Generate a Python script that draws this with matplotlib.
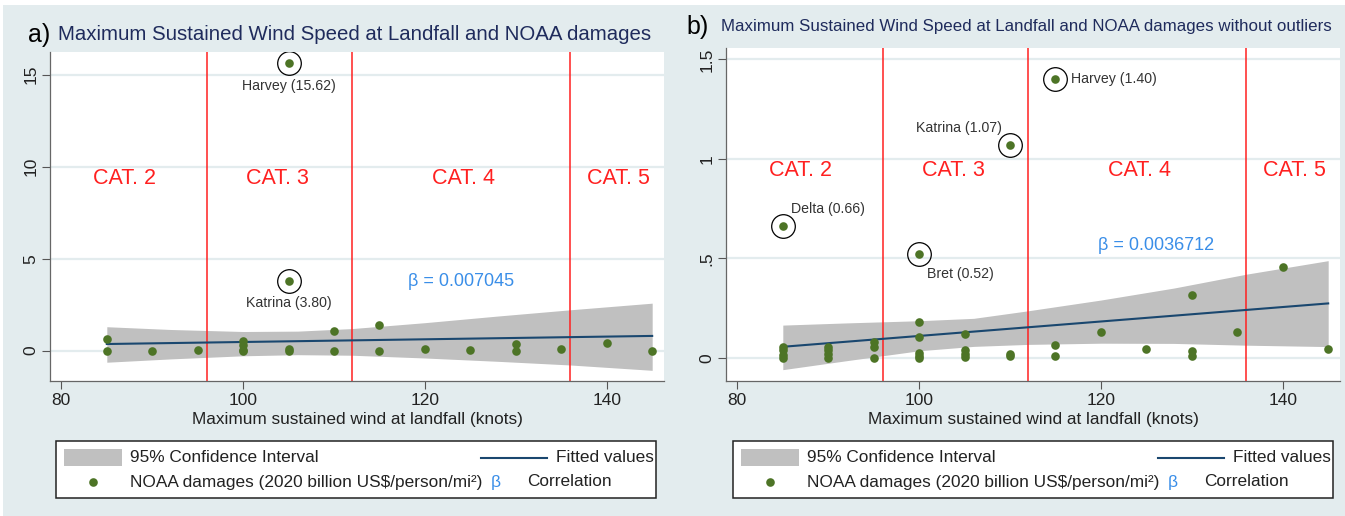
import matplotlib
matplotlib.use("Agg")
import matplotlib.pyplot as plt
from matplotlib.patches import Rectangle
from matplotlib.lines import Line2D

plt.rcParams["font.family"] = ["Liberation Sans", "DejaVu Sans"]

# ---- data ----
cat_bounds = [96, 112, 136]
cat_labels = ["CAT. 2", "CAT. 3", "CAT. 4", "CAT. 5"]
cat_centers = [87, 103.8, 124.2, 141.3]

# panel a: all storms
wind_a = [85, 85, 90, 95, 100, 100, 100, 100, 105, 105, 105, 105,
          110, 110, 115, 115, 120, 125, 130, 130, 135, 140, 145]
dmg_a = [0.63, 0.0, 0.0, 0.03, 0.53, 0.30, 0.04, 0.0, 15.62, 3.80, 0.10, 0.0,
         1.05, 0.0, 1.38, 0.0, 0.11, 0.02, 0.34, 0.0, 0.11, 0.43, 0.0]
out_names_a = ["Harvey (15.62)", "Katrina (3.80)"]
out_wind_a = [105, 105]
out_dmg_a = [15.62, 3.80]
fit_x = [85, 145]
fit_a = [0.36, 0.80]
ci_x = [85, 92, 100, 106, 112, 120, 128, 136, 145]
ci_lo_a = [-0.63, -0.45, -0.28, -0.22, -0.25, -0.40, -0.58, -0.78, -1.07]
ci_hi_a = [1.30, 1.15, 1.04, 1.06, 1.20, 1.52, 1.88, 2.22, 2.58]
beta_a = "β = 0.007045"

# panel b: without outliers
wind_b = [85, 85, 85, 85, 85, 90, 90, 90, 90, 95, 95, 95,
          100, 100, 100, 100, 100, 100, 105, 105, 105, 105,
          110, 110, 110, 115, 115, 115, 120, 125, 130, 130, 130, 135, 140, 145]
dmg_b = [0.66, 0.055, 0.038, 0.013, 0.0, 0.055, 0.04, 0.018, 0.0, 0.08, 0.055, 0.0,
         0.52, 0.18, 0.105, 0.025, 0.01, 0.0, 0.12, 0.04, 0.02, 0.005,
         1.07, 0.02, 0.01, 1.40, 0.065, 0.01, 0.13, 0.045, 0.315, 0.035, 0.01,
         0.13, 0.457, 0.045]
out_names_b = ["Harvey (1.40)", "Katrina (1.07)", "Delta (0.66)", "Bret (0.52)"]
out_wind_b = [115, 110, 85, 100]
out_dmg_b = [1.40, 1.07, 0.66, 0.52]
fit_b = [0.055, 0.273]
ci_lo_b = [-0.060, -0.015, 0.035, 0.057, 0.067, 0.073, 0.072, 0.063, 0.056]
ci_hi_b = [0.164, 0.175, 0.186, 0.198, 0.236, 0.290, 0.350, 0.420, 0.488]
beta_b = "β = 0.0036712"

# ---- styling ----
W, H = 1345, 516
BG = "#e3ecee"
GREEN = "#4d7426"
NAVY = "#1a476f"
GRAY = "#c0c0c0"
BLUE = "#3a8ee8"
RED = "#ff2020"
TITLE = "#1f2b5c"
TXT = "#222222"


def px(x, y):
    return x / W, 1 - y / H


def draw_panel(ax, wind, dmg, fit, lo, hi, names, ow, od, offsets,
               yticks, yticklabels, ylim, cat_y, beta, beta_xy):
    ax.set_facecolor("white")
    ax.fill_between(ci_x, lo, hi, color=GRAY, lw=0, zorder=1)
    ax.plot(fit_x, fit, color=NAVY, lw=1.5, zorder=2)
    for b in cat_bounds:
        ax.axvline(b, color=RED, lw=1.1, zorder=1.5)
    ax.plot(wind, dmg, "o", color=GREEN, ms=6.2, mew=0, zorder=3)
    ax.plot(ow, od, "o", mfc="none", mec="black", ms=17, mew=0.9, zorder=3)
    for name, x, y, (dx, dy, ha) in zip(names, ow, od, offsets):
        ax.annotate(name, (x, y), xytext=(dx, dy), textcoords="offset pixels",
                    ha=ha, va="center", fontsize=10.2, color="#333333")
    for lab, cx in zip(cat_labels, cat_centers):
        ax.text(cx, cat_y, lab, color=RED, fontsize=15.5, ha="center", va="center")
    ax.text(beta_xy[0], beta_xy[1], beta, color=BLUE, fontsize=13,
            ha="center", va="center")

    ax.set_xlim(78.75, 146.3)
    ax.set_ylim(*ylim)
    ax.set_xticks([80, 100, 120, 140])
    ax.set_yticks(yticks)
    ax.set_yticklabels(yticklabels, rotation=90, va="center")
    ax.tick_params(labelsize=12.5, length=6, pad=2.5, color="#555555", width=0.8,
                   labelcolor=TXT)
    ax.grid(axis="y", color=BG, lw=1.6, zorder=0)
    ax.set_axisbelow(True)
    for s in ["top", "right"]:
        ax.spines[s].set_visible(False)
    for s in ["left", "bottom"]:
        ax.spines[s].set_color("#666666")
        ax.spines[s].set_linewidth(0.9)
    ax.set_xlabel("Maximum sustained wind at landfall (knots)", fontsize=12.4,
                  color=TXT, labelpad=3)


def draw_legend(fig, x0):
    fig.patches.append(Rectangle(px(x0, 498), 600 / W, 57 / H, transform=fig.transFigure,
                                 facecolor="white", edgecolor="#222222", lw=1.1))
    fig.patches.append(Rectangle(px(x0 + 8, 466), 58 / W, 17 / H, transform=fig.transFigure,
                                 facecolor=GRAY, edgecolor="none"))
    fig.lines.append(Line2D([(x0 + 425) / W, (x0 + 491) / W], [1 - 458 / H] * 2,
                            transform=fig.transFigure, color=NAVY, lw=1.5))
    fig.lines.append(Line2D([(x0 + 37) / W], [1 - 482 / H], transform=fig.transFigure,
                            marker="o", color=GREEN, ms=6.2, mew=0))
    kw = dict(fontsize=12.4, va="center", color=TXT)
    fig.text(*px(x0 + 74, 458), "95% Confidence Interval", **kw)
    fig.text(*px(x0 + 74, 482), "NOAA damages (2020 billion US$/person/mi²)", **kw)
    fig.text(*px(x0 + 598, 458), "Fitted values", ha="right", **kw)
    fig.text(*px(x0 + 440, 482), "β", ha="center", fontsize=12.4, va="center", color=BLUE)
    fig.text(*px(x0 + 471, 482), "Correlation", **kw)


fig = plt.figure(figsize=(W / 100, H / 100), dpi=100, facecolor="white")
fig.patches.append(Rectangle(px(3, H), (W - 3) / W, (H - 5) / H,
                             transform=fig.transFigure, facecolor=BG, edgecolor="none",
                             zorder=-10))

ax_a = fig.add_axes([50 / W, 1 - 381 / H, 614 / W, 329 / H])
ax_b = fig.add_axes([726 / W, 1 - 381 / H, 614 / W, 333 / H])

draw_panel(ax_a, wind_a, dmg_a, fit_a, ci_lo_a, ci_hi_a, out_names_a, out_wind_a,
           out_dmg_a, [(0, -23, "center"), (0, -22, "center")],
           [0, 5, 10, 15], ["0", "5", "10", "15"], (-1.65, 16.23), 9.33,
           beta_a, (124, 3.75))
draw_panel(ax_b, wind_b, dmg_b, fit_b, ci_lo_b, ci_hi_b, out_names_b, out_wind_b,
           out_dmg_b, [(16, 0, "left"), (-8, 17, "right"), (8, 17, "left"), (8, -20, "left")],
           [0, 0.5, 1, 1.5], ["0", ".5", "1", "1.5"], (-0.117, 1.557), 0.94,
           beta_b, (126.1, 0.566))

fig.text(*px(28, 35), "a)", fontsize=18, va="center", color="black")
fig.text(*px(58, 35), "Maximum Sustained Wind Speed at Landfall and NOAA damages",
         fontsize=14.7, va="center", color=TITLE)
fig.text(*px(686, 27), "b)", fontsize=18, va="center", color="black")
fig.text(*px(721, 27),
         "Maximum Sustained Wind Speed at Landfall and NOAA damages without outliers",
         fontsize=12.2, va="center", color=TITLE)

draw_legend(fig, 56)
draw_legend(fig, 733)

fig.savefig("out.png", dpi=100, facecolor=fig.get_facecolor())
